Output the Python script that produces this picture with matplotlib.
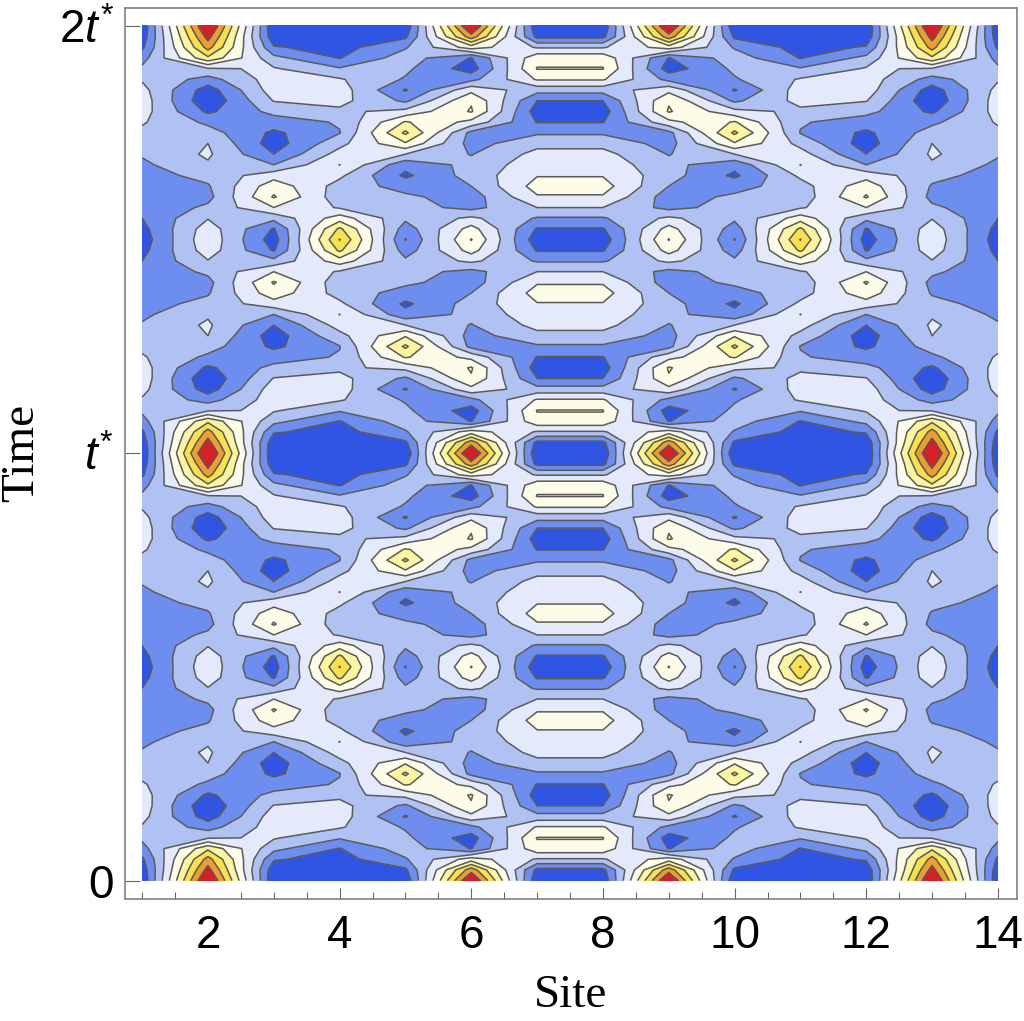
import matplotlib
matplotlib.use('Agg')
import matplotlib.pyplot as plt
import numpy as np

# every 0.025 t*, t = 0 .. 0.5 t*, in band units:
# value k .. k+1 is the k-th colour band (0 = dark blue, 8 = red)
site_1 = [0.2, 0.4, 0.8, 1.6, 2.2, 2.9, 3.3, 3.5, 3.4, 3.1, 2.8, 2.4, 2.1, 1.8, 1.6, 1.5, 1.4, 1.2, 1.0, 0.7, 0.5]
site_2 = [9.4, 8.4, 7.4, 5.8, 2.9, 1.6, 0.5, 0.2, 0.8, 1.8, 2.4, 3.0, 3.15, 2.88, 2.3, 1.9, 1.7, 2.2, 2.95, 3.5, 3.7]
site_3 = [0.1, 0.3, 1.1, 2.3, 3.1, 3.5, 3.5, 3.05, 2.3, 1.5, 0.8, 0.5, 1.0, 2.0, 3.6, 4.6, 5.1, 4.0, 2.3, 0.9, 0.5]
site_4 = [0.1, 0.2, 0.6, 0.95, 2.1, 3.1, 3.5, 3.3, 2.8, 2.1, 1.95, 2.7, 3.4, 4.02, 3.2, 2.6, 2.4, 2.9, 4.5, 6.2, 7.05]
site_5 = [0.2, 0.8, 1.9, 2.5, 2.2, 1.9, 0.9, 1.8, 3.3, 5.1, 6.2, 4.9, 3.0, 1.3, 0.8, 1.6, 2.2, 2.4, 2.2, 1.5, 0.95]
site_6 = [9.3, 7.6, 4.5, 0.95, 0.5, 1.7, 3.7, 4.9, 5.1, 3.7, 1.7, 1.6, 1.95, 2.3, 2.4, 2.0, 1.5, 1.7, 3.2, 4.4, 5.05]
site_7 = [0.2, 0.7, 2.9, 4.7, 5.05, 4.1, 2.4, 1.0, 0.5, 0.95, 1.85, 2.7, 3.3, 3.6, 3.95, 4.4, 3.9, 3.0, 1.9, 0.9, 0.4]

band_edges = [-1, 1, 2, 3, 4, 5, 6, 7, 8, 11]
band_colors = ['#2f55e2', '#6e8eef', '#b0c1f3', '#e4e9fb', '#fcfce8',
               '#fbf5a2', '#f8e050', '#ec9f30', '#d62028']

x_major = [2, 4, 6, 8, 10, 12, 14]
y_ticks = [0, 1, 2]
y_labels = ['0', '$t^{*}$', '$2t^{*}$']

plt.rcParams['font.family'] = 'Liberation Sans'
plt.rcParams['mathtext.fontset'] = 'custom'
plt.rcParams['mathtext.rm'] = 'Liberation Sans'
plt.rcParams['mathtext.it'] = 'Liberation Sans:italic'


def main():
  fig = plt.figure(figsize=(10.24, 10.21), dpi=100)
  ax = fig.add_axes([125 / 1024, 1 - 899 / 1021, 892 / 1024, 891 / 1021])

  # pattern is mirrored in space, and in time around t*/2, periodic in t*
  left = np.array([site_1, site_2, site_3, site_4, site_5, site_6, site_7]).T
  grid = np.hstack([left, left[:, ::-1]])
  one = np.vstack([grid, grid[-2::-1]])
  Z = np.vstack([one, one[1:]])

  x = np.arange(1, 15)
  y = np.arange(Z.shape[0]) * 0.025

  ax.contourf(x, y, Z, levels=band_edges, colors=band_colors)
  ax.contour(x, y, Z, levels=band_edges[1:-1], colors='#5a5a5a', linewidths=1.1)

  ax.set_xlim(0.74, 14.29)
  ax.set_ylim(-0.043, 2.042)

  ax.set_xticks(x_major)
  ax.set_xticks(np.arange(1, 14.5, 0.5), minor=True)
  ax.set_yticks(y_ticks)
  ax.set_yticklabels(y_labels)
  ax.tick_params(axis='x', which='major', direction='in', length=8, width=0.8,
                 color='#666666', labelsize=33, pad=10.5)
  ax.tick_params(axis='x', which='minor', direction='in', length=5, width=0.8,
                 color='#666666')
  ax.tick_params(axis='y', direction='in', length=11, width=0.8,
                 color='#666666', labelsize=33, pad=8)

  # the reference has no tick mark at site 2
  ax.xaxis.get_major_ticks()[0].tick1line.set_visible(False)
  for tick in ax.xaxis.get_minor_ticks():
    if tick.get_loc() == 2:
      tick.tick1line.set_visible(False)

  for side in ax.spines.values():
    side.set_color('#808080')
    side.set_linewidth(1.2)

  fig.text(571 / 1024, 1 - 996 / 1021, 'Site', fontsize=34, family='Liberation Serif',
           ha='center', va='center')
  fig.text(22 / 1024, 1 - 453 / 1021, 'Time', fontsize=34, family='Liberation Serif',
           ha='center', va='center', rotation=90)

  fig.savefig('out.png', dpi=100)


if __name__ == '__main__':
  main()
